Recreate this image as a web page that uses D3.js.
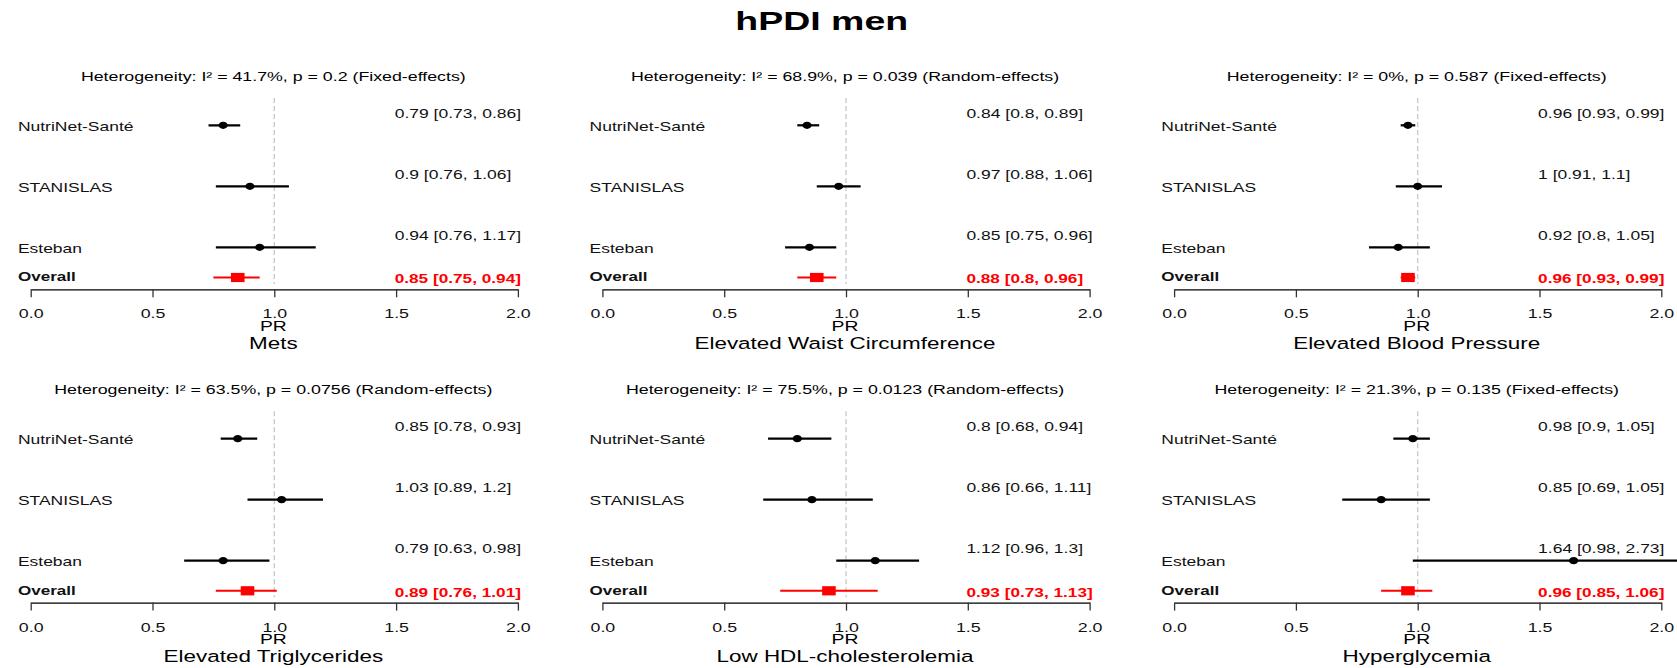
<!DOCTYPE html>
<html>
<head>
<meta charset="utf-8">
<script src="https://cdn.jsdelivr.net/npm/d3@7"></script>
<style>
  body { margin: 0; background: #fff; }
  svg text { font-family: "Liberation Sans", Arial, sans-serif; }
</style>
</head>
<body>
<div id="chart"></div>
<script>
// data
const mainTitle = 'hPDI men';
const panelTitles = ['Mets', 'Elevated Waist Circumference', 'Elevated Blood Pressure',
  'Elevated Triglycerides', 'Low HDL-cholesterolemia', 'Hyperglycemia'];
const hetTexts = [
  'Heterogeneity: I\u00b2 = 41.7%, p = 0.2 (Fixed-effects)',
  'Heterogeneity: I\u00b2 = 68.9%, p = 0.039 (Random-effects)',
  'Heterogeneity: I\u00b2 = 0%, p = 0.587 (Fixed-effects)',
  'Heterogeneity: I\u00b2 = 63.5%, p = 0.0756 (Random-effects)',
  'Heterogeneity: I\u00b2 = 75.5%, p = 0.0123 (Random-effects)',
  'Heterogeneity: I\u00b2 = 21.3%, p = 0.135 (Fixed-effects)'
];
const studies = ['NutriNet-Sant\u00e9', 'STANISLAS', 'Esteban'];
const pointEst = [[0.79, 0.9, 0.94], [0.84, 0.97, 0.85], [0.96, 1, 0.92],
  [0.85, 1.03, 0.79], [0.8, 0.86, 1.12], [0.98, 0.85, 1.64]];
const lowerCI = [[0.73, 0.76, 0.76], [0.8, 0.88, 0.75], [0.93, 0.91, 0.8],
  [0.78, 0.89, 0.63], [0.68, 0.66, 0.96], [0.9, 0.69, 0.98]];
const upperCI = [[0.86, 1.06, 1.17], [0.89, 1.06, 0.96], [0.99, 1.1, 1.05],
  [0.93, 1.2, 0.98], [0.94, 1.11, 1.3], [1.05, 1.05, 2.73]];
const overallEst = [0.85, 0.88, 0.96, 0.89, 0.93, 0.96];
const overallLo = [0.75, 0.8, 0.93, 0.76, 0.73, 0.85];
const overallHi = [0.94, 0.96, 0.99, 1.01, 1.13, 1.06];
const xTicks = [0, 0.5, 1, 1.5, 2];

const width = 1677, height = 668;
const SX = 1.4; // the reference text is stretched sideways

const svg = d3.select('#chart').append('svg')
  .attr('width', width)
  .attr('height', height);

// put a text at x,y with the horizontal stretch
function putText(g, str, x, y, size, anchor, opts) {
  opts = opts || {};
  return g.append('text')
    .attr('transform', 'translate(' + x + ',' + y + ') scale(' + (opts.sx || SX) + ',1)')
    .attr('text-anchor', anchor)
    .attr('font-size', size)
    .attr('font-weight', opts.bold ? 'bold' : 'normal')
    .attr('fill', opts.color || '#000')
    .text(str);
}

putText(svg, mainTitle, 821.7, 30, 25, 'middle', { bold: true, sx: 1.5 });

panelTitles.forEach((title, i) => {
  const col = i % 3, row = Math.floor(i / 3);
  const x0 = 30.7 + col * 571.7;
  const g = svg.append('g').attr('transform', 'translate(0,' + (row * 313.3) + ')');

  const x = d3.scaleLinear().domain([0, 2]).range([x0, x0 + 487.2]);
  const y = d3.scalePoint().domain(studies).range([125.3, 247.3]);
  const yOverall = 277.5;
  const axisY = 289.3;

  // reference line at 1
  g.append('line')
    .attr('x1', x(1)).attr('x2', x(1))
    .attr('y1', 98).attr('y2', 284)
    .attr('stroke', '#c8c8c8')
    .attr('stroke-width', 1.3)
    .attr('stroke-dasharray', '5,3');

  putText(g, hetTexts[i], x(1) - 1, 81.1, 12.7, 'middle');

  // study rows
  studies.forEach((s, j) => {
    g.append('line')
      .attr('x1', x(lowerCI[i][j])).attr('x2', x(upperCI[i][j]))
      .attr('y1', y(s)).attr('y2', y(s))
      .attr('stroke', '#000')
      .attr('stroke-width', 2.2);
    g.append('ellipse')
      .attr('cx', x(pointEst[i][j])).attr('cy', y(s))
      .attr('rx', 4.6).attr('ry', 3.6)
      .attr('fill', '#000');
    putText(g, s, x0 - 12.8, y(s) + 5.8, 12.5, 'start', { color: '#111' });
    putText(g, pointEst[i][j] + ' [' + lowerCI[i][j] + ', ' + upperCI[i][j] + ']',
      x0 + 364, y(s) - 7.5, 12.5, 'start', { color: '#111' });
  });

  // overall row
  g.append('line')
    .attr('x1', x(overallLo[i])).attr('x2', x(overallHi[i]))
    .attr('y1', yOverall).attr('y2', yOverall)
    .attr('stroke', '#ff0000')
    .attr('stroke-width', 2);
  g.append('rect')
    .attr('x', x(overallEst[i]) - 6.8).attr('y', yOverall - 4.6)
    .attr('width', 13.6).attr('height', 9.2)
    .attr('fill', '#ff0000');
  putText(g, 'Overall', x0 - 12.8, 281.2, 12.2, 'start', { bold: true, color: '#111' });
  putText(g, overallEst[i] + ' [' + overallLo[i] + ', ' + overallHi[i] + ']',
    x0 + 364, 283.2, 12.3, 'start', { bold: true, color: '#ff0000' });

  // x axis
  const axisG = g.append('g')
    .attr('transform', 'translate(0,' + axisY + ')')
    .call(d3.axisBottom(x).tickValues(xTicks).tickFormat(d3.format('.1f')).tickSize(8).tickSizeOuter(0));
  axisG.select('.domain').attr('stroke', '#000').attr('stroke-width', 1.3);
  axisG.selectAll('.tick line').attr('stroke', '#333').attr('stroke-width', 1.3);
  axisG.selectAll('.tick text')
    .attr('y', 29.2).attr('dy', 0)
    .attr('transform', 'scale(' + SX + ',1)')
    .attr('font-size', 12.7)
    .attr('font-family', '"Liberation Sans", Arial, sans-serif')
    .attr('fill', '#111');

  putText(g, 'PR', x(1) - 1, axisY + 41.3, 13.8, 'middle');
  putText(g, title, x(1) - 1, axisY + 59.6, 15.6, 'middle', { sx: 1.44 });
});
</script>
</body>
</html>
